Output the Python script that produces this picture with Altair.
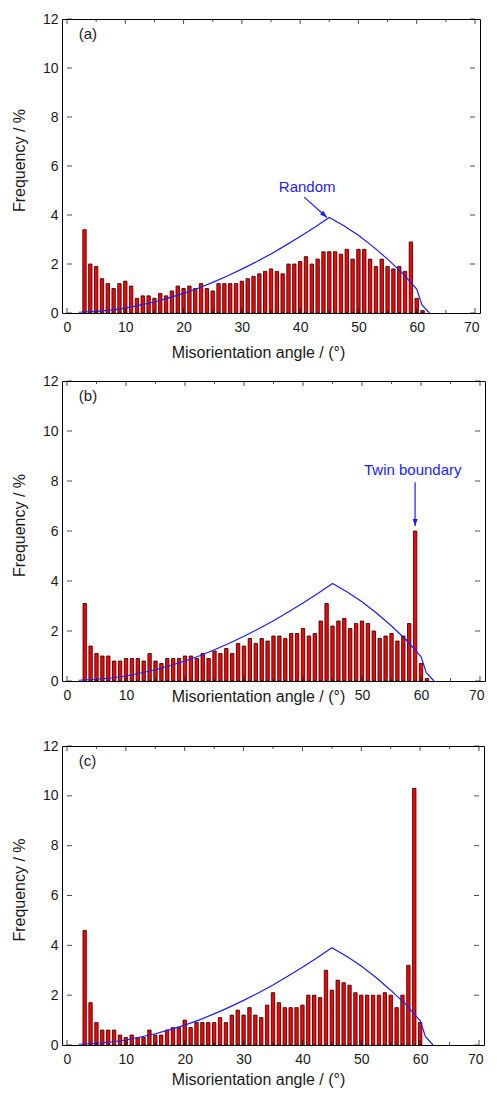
import altair as alt
import pandas as pd

# ---------------- data ----------------
angles = list(range(3, 62))  # bin centres, degrees

freq_a = [3.4, 2.0, 1.9, 1.4, 1.2, 1.0, 1.2, 1.3, 1.1, 0.6,
          0.7, 0.7, 0.6, 0.8, 0.7, 0.9, 1.1, 1.0, 1.1, 1.0,
          1.2, 1.0, 0.9, 1.2, 1.2, 1.2, 1.2, 1.3, 1.4, 1.5,
          1.6, 1.7, 1.8, 1.7, 1.6, 2.0, 2.0, 2.1, 2.3, 2.0,
          2.2, 2.5, 2.5, 2.5, 2.4, 2.6, 2.2, 2.6, 2.6, 2.2,
          1.9, 2.2, 1.9, 1.8, 1.9, 1.7, 2.9, 0.6, 0.1]

freq_b = [3.1, 1.4, 1.1, 1.0, 1.0, 0.8, 0.8, 0.9, 0.9, 0.9,
          0.8, 1.1, 0.8, 0.7, 0.9, 0.9, 0.9, 1.0, 1.0, 0.9,
          1.1, 0.9, 1.2, 1.1, 1.3, 1.1, 1.5, 1.4, 1.7, 1.5,
          1.7, 1.6, 1.8, 1.8, 1.7, 1.9, 1.9, 2.1, 1.8, 1.9,
          2.4, 3.1, 2.2, 2.4, 2.5, 2.1, 2.3, 2.4, 2.3, 2.0,
          1.7, 1.8, 1.9, 1.6, 1.8, 2.3, 6.0, 0.7, 0.1]

freq_c = [4.6, 1.7, 0.9, 0.6, 0.6, 0.6, 0.4, 0.3, 0.4, 0.3,
          0.3, 0.6, 0.4, 0.4, 0.6, 0.7, 0.7, 1.0, 0.7, 0.9,
          0.9, 0.9, 0.9, 1.1, 0.9, 1.2, 1.4, 1.2, 1.5, 1.2,
          1.1, 1.6, 2.1, 1.7, 1.5, 1.5, 1.5, 1.6, 2.0, 2.0,
          1.9, 3.0, 2.2, 2.6, 2.5, 2.4, 2.1, 2.0, 2.0, 2.0,
          2.0, 2.1, 2.0, 1.5, 2.0, 3.2, 10.3, 0.9, 0.0]

# "Random" (Mackenzie) curve
random_angle = [2, 5, 7.5, 10, 12.5, 15, 17.5, 20, 22.5, 25, 27.5, 30, 32.5,
                35, 37.5, 40, 42.5, 45, 47.5, 50, 52.5, 55, 57.5, 60, 60.9, 62.2]
random_freq = [0.03, 0.07, 0.12, 0.2, 0.32, 0.45, 0.62, 0.8, 1.01, 1.25, 1.51,
               1.79, 2.09, 2.41, 2.76, 3.12, 3.5, 3.9, 3.56, 3.17, 2.71, 2.2,
               1.64, 0.98, 0.33, 0.0]

x_label_values = [0, 10, 20, 30, 40, 50, 60, 70]
y_label_values = [0, 2, 4, 6, 8, 10, 12]
x_minor_values = [5, 15, 25, 35, 45, 55, 65]

panel_labels = ["(a)", "(b)", "(c)"]
label_pos = [2.0, 11.4]

random_text = "Random"
random_text_pos = [41.2, 5.15]
random_arrow = [40.7, 4.73, 44.6, 3.9]     # x, y, x2, y2

twin_text = "Twin boundary"
twin_text_pos = [58.6, 8.45]
twin_arrow = [59.0, 7.95, 59.0, 6.2]

X_TITLE = "Misorientation angle / (°)"
Y_TITLE = "Frequency / %"

FONT = "Liberation Sans"
BLUE = "#1c1cff"

x_scale = alt.Scale(domain=[0, 70], nice=False, zero=False)
y_scale = alt.Scale(domain=[0, 12], nice=False)

line_df = pd.DataFrame({"angle": random_angle, "freq": random_freq})


def tick_layers():
    xmaj = pd.DataFrame({"v": x_label_values})
    xmin = pd.DataFrame({"v": x_minor_values})
    ymaj = pd.DataFrame({"v": y_label_values})
    layers = []
    for df, ln in ((xmaj, 5), (xmin, 3)):
        layers.append(alt.Chart(df).mark_tick(orient="vertical", size=ln, thickness=1,
                                              color="black", yOffset=-ln / 2)
                      .encode(x=alt.X("v:Q", scale=x_scale), y=alt.datum(0)))
        layers.append(alt.Chart(df).mark_tick(orient="vertical", size=ln, thickness=1,
                                              color="black", yOffset=ln / 2)
                      .encode(x=alt.X("v:Q", scale=x_scale), y=alt.datum(12)))
    layers.append(alt.Chart(ymaj).mark_tick(orient="horizontal", size=5, thickness=1,
                                            color="black", xOffset=2.5)
                  .encode(y=alt.Y("v:Q", scale=y_scale), x=alt.datum(0)))
    layers.append(alt.Chart(ymaj).mark_tick(orient="horizontal", size=5, thickness=1,
                                            color="black", xOffset=-2.5)
                  .encode(y=alt.Y("v:Q", scale=y_scale), x=alt.datum(70)))
    return layers


def arrow(pts, angle):
    df = pd.DataFrame({"x": [pts[0]], "y": [pts[1]], "x2": [pts[2]], "y2": [pts[3]]})
    rule = alt.Chart(df).mark_rule(color=BLUE, strokeWidth=1.2).encode(
        x="x:Q", y="y:Q", x2="x2:Q", y2="y2:Q")
    head = alt.Chart(df).mark_point(shape="M0,0L-0.36,1L0.36,1Z", filled=True,
                                    size=200, angle=angle, color=BLUE, opacity=1,
                                    strokeWidth=0).encode(x="x2:Q", y="y2:Q")
    return [rule, head]


def panel(freqs, label, width, height, title_pad, hide=None, extra=None):
    df = pd.DataFrame({"angle": angles, "freq": freqs})
    expr = "datum.label"
    if hide:
        expr = "indexof(%s, datum.value) >= 0 ? '' : datum.label" % str(hide)
    xaxis = alt.Axis(
        values=x_label_values, title=X_TITLE, titlePadding=title_pad,
        labelPadding=7, labelExpr=expr, titleX=196, titleAnchor="start",
        titleAlign="center",
        labelAlign={"condition": {"test": "datum.value == 70", "value": "right"},
                    "value": "center"},
        labelOffset={"condition": {"test": "datum.value == 70", "value": 4},
                     "value": 0})
    yaxis = alt.Axis(values=y_label_values, title=Y_TITLE, labelPadding=4,
                     titlePadding=15, titleY=height / 2 - 6)
    bars = alt.Chart(df).transform_filter("datum.freq > 0").mark_bar(
        orient="vertical", size=3.4, color="#ff0000", stroke="#200000",
        strokeWidth=0.8).encode(
        x=alt.X("angle:Q", scale=x_scale, axis=xaxis),
        y=alt.Y("freq:Q", scale=y_scale, axis=yaxis))
    line = alt.Chart(line_df).mark_line(color=BLUE, strokeWidth=1.2).encode(
        x="angle:Q", y="freq:Q")
    lab = alt.Chart(pd.DataFrame({"x": [label_pos[0]], "y": [label_pos[1]], "t": [label]})
                    ).mark_text(align="left", baseline="middle", fontSize=15, font=FONT,
                                color="#1a1a1a").encode(x="x:Q", y="y:Q", text="t:N")
    layers = [bars, line] + tick_layers() + [lab]
    if extra:
        layers += extra
    return alt.layer(*layers).properties(width=width, height=height)


def annot_text(text, pos):
    return alt.Chart(pd.DataFrame({"x": [pos[0]], "y": [pos[1]], "t": [text]})).mark_text(
        align="center", baseline="middle", fontSize=15, font=FONT, color=BLUE
    ).encode(x="x:Q", y="y:Q", text="t:N")


pa = panel(freq_a, panel_labels[0], 418, 294, 10,
           extra=[annot_text(random_text, random_text_pos)] + arrow(random_arrow, 132))
pb = panel(freq_b, panel_labels[1], 423, 300, -14, hide=[20, 30, 40],
           extra=[annot_text(twin_text, twin_text_pos)] + arrow(twin_arrow, 180))
pc = panel(freq_c, panel_labels[2], 422, 299, 5)

chart = alt.vconcat(pa, alt.vconcat(pb, pc, spacing=33), spacing=12).properties(
    padding={"left": 2, "top": 3, "right": 0, "bottom": 0}
).configure_view(stroke="black", strokeWidth=1).configure_axis(
    labelFont=FONT, titleFont=FONT, labelFontSize=14, titleFontSize=16,
    titleFontWeight="normal", labelColor="#1a1a1a", titleColor="#1a1a1a",
    ticks=False, domain=False, grid=False
)

chart.save("out.html", embed_options={"renderer": "svg", "actions": False})
